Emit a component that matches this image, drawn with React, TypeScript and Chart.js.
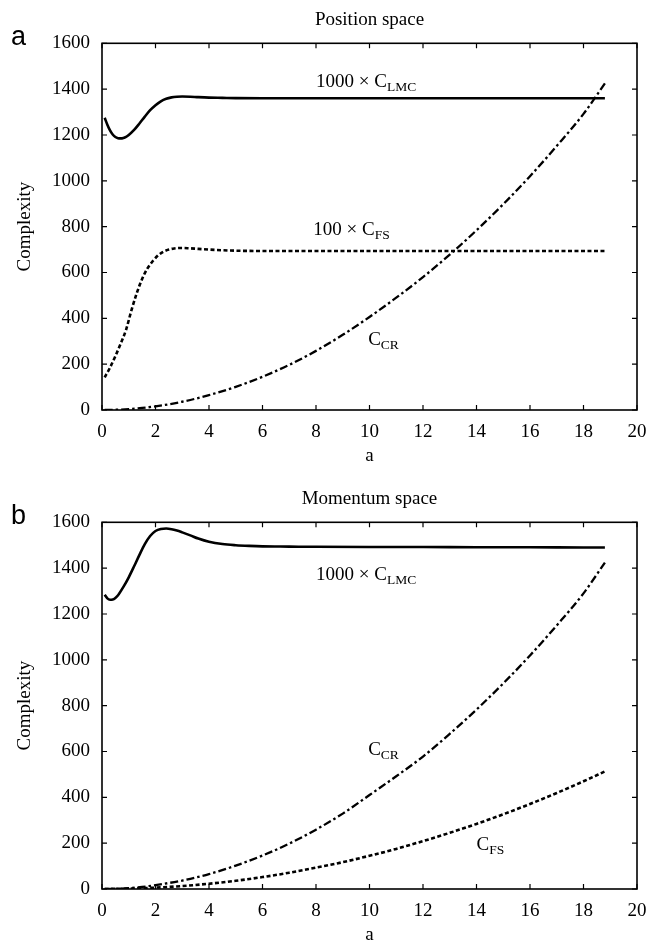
import React, { useEffect, useRef } from 'react';
import { Chart, registerables } from 'chart.js';
Chart.register(...registerables);

// ---------- data ----------
const xMin = 0;
const xMax = 20;
const xStep = 2;
const yMin = 0;
const yMax = 1600;
const yStep = 200;

// Position space
const posLmcX = [0.1, 0.2, 0.3, 0.4, 0.5, 0.6, 0.7, 0.8, 0.9, 1.0, 1.2, 1.4, 1.6, 1.8, 2.0, 2.2, 2.4, 2.6, 2.8, 3.0, 3.3, 3.6, 4.0, 4.5, 5, 6, 8, 10, 12, 14, 16, 18, 18.8];
const posLmcY = [1275, 1245, 1220, 1202, 1191, 1186, 1185, 1187, 1192, 1200, 1222, 1250, 1280, 1308, 1330, 1347, 1358, 1364, 1367, 1368, 1367, 1365, 1363, 1362, 1361, 1360, 1360, 1360, 1360, 1360, 1360, 1360, 1360];

const posFsX = [0.1, 0.3, 0.5, 0.7, 0.9, 1.1, 1.3, 1.5, 1.7, 1.9, 2.1, 2.3, 2.5, 2.7, 2.9, 3.2, 3.6, 4.0, 4.5, 5, 6, 8, 10, 12, 14, 16, 18, 18.8];
const posFsY = [142, 185, 235, 290, 350, 435, 510, 572, 618, 650, 675, 691, 700, 705, 707, 706, 703, 700, 697, 695, 694, 694, 694, 694, 694, 694, 694, 694];

const posCrX = [0.1, 0.5, 1, 1.5, 2, 3, 4, 5, 6, 7, 8, 9, 10, 11, 12, 13, 14, 15, 16, 17, 18, 18.8];
const posCrY = [0, 1, 4, 9, 16, 36, 65, 101, 145, 197, 258, 328, 406, 490, 580, 678, 784, 898, 1020, 1152, 1292, 1425];

// Momentum space
const momLmcX = [0.1, 0.2, 0.3, 0.4, 0.5, 0.6, 0.8, 1.0, 1.2, 1.4, 1.6, 1.8, 2.0, 2.2, 2.4, 2.6, 2.8, 3.0, 3.3, 3.6, 4.0, 4.5, 5.0, 5.5, 6, 7, 8, 10, 12, 14, 16, 18, 18.8];
const momLmcY = [1284, 1268, 1262, 1263, 1270, 1282, 1318, 1360, 1408, 1458, 1505, 1540, 1562, 1571, 1573, 1570, 1564, 1556, 1543, 1529, 1515, 1505, 1500, 1497, 1495, 1494, 1493, 1492, 1492, 1491, 1491, 1490, 1490];

const momCrX = [0.1, 0.5, 1, 1.5, 2, 3, 4, 5, 6, 7, 8, 9, 10, 11, 12, 13, 14, 15, 16, 17, 18, 18.8];
const momCrY = [0, 1, 4, 9, 17, 37, 65, 102, 146, 198, 259, 329, 410, 492, 578, 677, 783, 897, 1019, 1150, 1290, 1424];

const momFsX = [0.1, 1, 2, 3, 4, 5, 6, 7, 8, 9, 10, 11, 12, 13, 14, 15, 16, 17, 18, 18.8];
const momFsY = [0, 1.5, 6, 13, 23, 36, 52, 71, 93, 117, 145, 175, 209, 245, 284, 326, 371, 419, 470, 513];

// ---------- styling ----------
const SERIF = "'Liberation Serif', 'DejaVu Serif', serif";
const SANS = "'Liberation Sans', Arial, sans-serif";
const FS = 19;
const SUB = 13.5;
const LMC_STYLE = { borderWidth: 2.6, borderDash: [] as number[] };
const FS_STYLE = { borderWidth: 2.6, borderDash: [4, 2.5] };
const CR_STYLE = { borderWidth: 2.3, borderDash: [8, 3, 2.5, 3] };

type Note = { main: string; sub: string; x: number; y: number };

const toPts = (xs: number[], ys: number[]) => xs.map((x, i) => ({ x, y: ys[i] }));

const framePlugin = {
  id: 'frameTicks',
  afterDatasetsDraw(chart: any, _args: any, opts: any) {
    const { ctx, chartArea } = chart;
    const { left, right, top, bottom } = chartArea;
    const xs = chart.scales.x;
    const ys = chart.scales.y;
    ctx.save();
    ctx.strokeStyle = '#000';
    ctx.lineWidth = 1.6;
    ctx.strokeRect(left, top, right - left, bottom - top);
    ctx.lineWidth = 1.2;
    ctx.beginPath();
    const tl = 5;
    xs.ticks.forEach((t: any) => {
      const px = xs.getPixelForValue(t.value);
      ctx.moveTo(px, bottom);
      ctx.lineTo(px, bottom - tl);
      ctx.moveTo(px, top);
      ctx.lineTo(px, top + tl);
    });
    ys.ticks.forEach((t: any) => {
      const py = ys.getPixelForValue(t.value);
      ctx.moveTo(left, py);
      ctx.lineTo(left + tl, py);
      ctx.moveTo(right, py);
      ctx.lineTo(right - tl, py);
    });
    ctx.stroke();

    // annotations
    ctx.fillStyle = '#000';
    ctx.textBaseline = 'alphabetic';
    ctx.textAlign = 'left';
    (opts.notes as Note[]).forEach((n) => {
      const px = xs.getPixelForValue(n.x);
      const py = ys.getPixelForValue(n.y);
      ctx.font = `${FS}px ${SERIF}`;
      ctx.fillText(n.main, px, py);
      const w = ctx.measureText(n.main).width;
      ctx.font = `${SUB}px ${SERIF}`;
      ctx.fillText(n.sub, px + w, py + 4);
    });

    // panel letter
    ctx.font = `27px ${SANS}`;
    ctx.fillText(opts.panel, 11, 45);
    ctx.restore();
  },
};

function makeConfig(title: string, panel: string, sets: any[], notes: Note[]) {
  return {
    type: 'line' as const,
    data: {
      datasets: sets.map((s) => ({
        data: s.data,
        borderColor: '#000',
        backgroundColor: '#000',
        borderWidth: s.style.borderWidth,
        borderDash: s.style.borderDash,
        pointRadius: 0,
        fill: false,
        cubicInterpolationMode: 'monotone',
      })),
    },
    options: {
      animation: false,
      responsive: false,
      parsing: true,
      layout: { padding: { left: 0, right: 13, top: 0, bottom: 0 } },
      plugins: {
        legend: { display: false },
        tooltip: { enabled: false },
        title: {
          display: true,
          text: title,
          color: '#000',
          fullSize: false,
          font: { family: SERIF, size: FS, weight: 'normal' },
          padding: { top: 8.6, bottom: 11.9 },
        },
        frameTicks: { notes, panel },
      },
      scales: {
        x: {
          type: 'linear',
          min: xMin,
          max: xMax,
          ticks: {
            stepSize: xStep,
            color: '#000',
            font: { family: SERIF, size: FS },
            padding: 10.5,
            maxRotation: 0,
            callback: (v: any) => String(v),
          },
          grid: { display: false, drawTicks: false },
          border: { display: false },
          title: {
            display: true,
            text: 'a',
            color: '#000',
            font: { family: SERIF, size: FS },
            padding: { top: 0, bottom: 11.6 },
          },
          afterFit: (s: any) => {
            s.height = 69;
            s.paddingLeft = 0;
            s.paddingRight = 0;
          },
        },
        y: {
          type: 'linear',
          min: yMin,
          max: yMax,
          ticks: {
            stepSize: yStep,
            color: '#000',
            font: { family: SERIF, size: FS },
            padding: 12,
            callback: (v: any) => String(v),
          },
          grid: { display: false, drawTicks: false },
          border: { display: false },
          title: {
            display: true,
            text: 'Complexity',
            color: '#000',
            font: { family: SERIF, size: FS },
            padding: { top: 13.6, bottom: 0 },
          },
          afterFit: (s: any) => {
            s.width = 102;
            s.paddingTop = 0;
            s.paddingBottom = 0;
          },
        },
      },
    },
    plugins: [framePlugin],
  };
}

const posNotes: Note[] = [
  { main: '1000 × C', sub: 'LMC', x: 8.0, y: 1409 },
  { main: '100 × C', sub: 'FS', x: 7.9, y: 763 },
  { main: 'C', sub: 'CR', x: 9.95, y: 284 },
];
const momNotes: Note[] = [
  { main: '1000 × C', sub: 'LMC', x: 8.0, y: 1350 },
  { main: 'C', sub: 'CR', x: 9.95, y: 585 },
  { main: 'C', sub: 'FS', x: 14.0, y: 170 },
];

function Panel({ top, cfg }: { top: number; cfg: () => any }) {
  const ref = useRef<HTMLCanvasElement | null>(null);
  useEffect(() => {
    if (!ref.current) return;
    const chart = new Chart(ref.current, cfg());
    return () => chart.destroy();
  }, []);
  return (
    <canvas
      ref={ref}
      width={650}
      height={479}
      style={{ position: 'absolute', left: 0, top, width: 650, height: 479, display: 'block' }}
    />
  );
}

export default function App() {
  return (
    <div style={{ position: 'absolute', left: 0, top: 0, width: 650, height: 944, overflow: 'hidden', background: '#fff' }}>
      <Panel
        top={0}
        cfg={() =>
          makeConfig('Position space', 'a', [
            { data: toPts(posLmcX, posLmcY), style: LMC_STYLE },
            { data: toPts(posFsX, posFsY), style: FS_STYLE },
            { data: toPts(posCrX, posCrY), style: CR_STYLE },
          ], posNotes)
        }
      />
      <Panel
        top={479}
        cfg={() =>
          makeConfig('Momentum space', 'b', [
            { data: toPts(momLmcX, momLmcY), style: LMC_STYLE },
            { data: toPts(momCrX, momCrY), style: CR_STYLE },
            { data: toPts(momFsX, momFsY), style: FS_STYLE },
          ], momNotes)
        }
      />
    </div>
  );
}
